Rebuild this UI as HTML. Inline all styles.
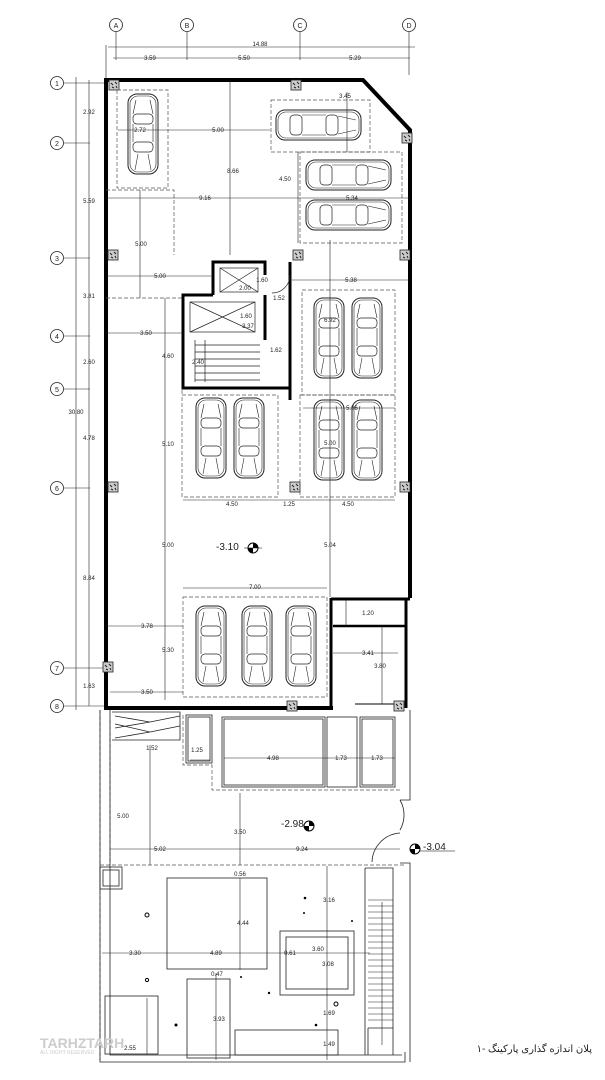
<!DOCTYPE html>
<html><head><meta charset="utf-8"><style>
html,body{margin:0;padding:0;background:#fff;}
svg{display:block}
text{font-family:"Liberation Sans",sans-serif;font-size:6px;fill:#222}
</style></head><body>
<svg width="605" height="1080" viewBox="0 0 605 1080" xmlns="http://www.w3.org/2000/svg">
<defs>
<g id="carV"><rect x="0" y="0" width="30" height="80" rx="9" fill="#fff" stroke="#222" stroke-width="1"/><rect x="2" y="2" width="26" height="76" rx="8" fill="none" stroke="#222" stroke-width="0.6"/><rect x="5" y="20" width="20" height="10" rx="4" fill="none" stroke="#222" stroke-width="0.7"/><rect x="5" y="48" width="20" height="10" rx="4" fill="none" stroke="#222" stroke-width="0.7"/><path d="M5 30 L5 48 M25 30 L25 48 M8 6 L5 20 M22 6 L25 20 M10 60 L7 76 M20 60 L23 76" stroke="#222" stroke-width="0.6" fill="none"/></g>
<g id="carH"><rect x="0" y="0" width="85" height="30" rx="9" fill="#fff" stroke="#222" stroke-width="1"/><rect x="2" y="2" width="81" height="26" rx="8" fill="none" stroke="#222" stroke-width="0.6"/><rect x="14" y="5" width="12" height="20" rx="4" fill="none" stroke="#222" stroke-width="0.7"/><rect x="50" y="5" width="12" height="20" rx="4" fill="none" stroke="#222" stroke-width="0.7"/><path d="M26 5 L50 5 M26 25 L50 25 M62 6 L80 10 M62 24 L80 20" stroke="#222" stroke-width="0.6" fill="none"/></g>
<g id="col"><rect x="0" y="0" width="10" height="10" fill="#ccc" stroke="#222" stroke-width="0.8"/><path d="M2 3 l2 2 M6 2 l2 2 M3 7 l2 1 M7 6 l1 2" stroke="#222" stroke-width="1"/></g>
</defs>

<g fill="#fff" stroke="#222" stroke-width="0.8">
<circle cx="116" cy="25" r="6.5"/><circle cx="187" cy="25" r="6.5"/><circle cx="300" cy="25" r="6.5"/><circle cx="409" cy="25" r="6.5"/>
<circle cx="57" cy="83" r="6.5"/><circle cx="57" cy="143" r="6.5"/><circle cx="57" cy="258" r="6.5"/><circle cx="57" cy="336" r="6.5"/><circle cx="57" cy="389" r="6.5"/><circle cx="57" cy="488" r="6.5"/><circle cx="57" cy="668" r="6.5"/><circle cx="57" cy="706" r="6.5"/>
</g>
<g text-anchor="middle">
<text x="116" y="28" style="font-size:7px">A</text><text x="187" y="28" style="font-size:7px">B</text><text x="300" y="28" style="font-size:7px">C</text><text x="409" y="28" style="font-size:7px">D</text>
<text x="57" y="86" style="font-size:7px">1</text><text x="57" y="146" style="font-size:7px">2</text><text x="57" y="261" style="font-size:7px">3</text><text x="57" y="339" style="font-size:7px">4</text><text x="57" y="392" style="font-size:7px">5</text><text x="57" y="491" style="font-size:7px">6</text><text x="57" y="671" style="font-size:7px">7</text><text x="57" y="709" style="font-size:7px">8</text>
</g>
<g stroke="#222" stroke-width="0.6">
<line x1="116" y1="32" x2="116" y2="60"/><line x1="187" y1="32" x2="187" y2="60"/><line x1="300" y1="32" x2="300" y2="60"/><line x1="409" y1="32" x2="409" y2="75"/>
<line x1="108" y1="47" x2="415" y2="47"/><line x1="113" y1="58" x2="410" y2="58"/>
<line x1="64" y1="83" x2="106" y2="83"/><line x1="64" y1="143" x2="90" y2="143"/><line x1="64" y1="258" x2="90" y2="258"/><line x1="64" y1="336" x2="90" y2="336"/><line x1="64" y1="389" x2="90" y2="389"/><line x1="64" y1="488" x2="90" y2="488"/><line x1="64" y1="668" x2="106" y2="668"/><line x1="64" y1="706" x2="106" y2="706"/>
<line x1="76" y1="77" x2="76" y2="710"/><line x1="89" y1="80" x2="89" y2="706"/>
<line x1="106" y1="45" x2="106" y2="80"/>
</g>
<g text-anchor="middle">
<text x="260" y="46">14.88</text><text x="150" y="60">3.59</text><text x="244" y="60">5.50</text><text x="355" y="60">5.29</text>
<text x="89" y="114">2.92</text><text x="89" y="203">5.59</text><text x="89" y="298">3.81</text><text x="89" y="364">2.60</text><text x="89" y="440">4.78</text><text x="76" y="414">30.80</text><text x="89" y="580">8.84</text><text x="89" y="688">1.63</text>
</g>

<path d="M106 710 L106 80 L363 80 L410 130 L410 598" fill="none" stroke="#000" stroke-width="4"/>
<line x1="106" y1="708" x2="333" y2="708" stroke="#000" stroke-width="4"/>
<line x1="331" y1="598" x2="331" y2="708" stroke="#000" stroke-width="3"/>
<line x1="331" y1="599" x2="410" y2="599" stroke="#000" stroke-width="3"/>
<line x1="333" y1="626" x2="405" y2="626" stroke="#000" stroke-width="2.5"/>
<line x1="406" y1="599" x2="406" y2="708" stroke="#000" stroke-width="3"/>
<line x1="355" y1="704" x2="406" y2="704" stroke="#000" stroke-width="1"/>

<use href="#col" x="109" y="80"/><use href="#col" x="291" y="80"/><use href="#col" x="402" y="133"/><use href="#col" x="108" y="250"/><use href="#col" x="400" y="250"/><use href="#col" x="108" y="482"/><use href="#col" x="290" y="482"/><use href="#col" x="400" y="482"/><use href="#col" x="103" y="662"/><use href="#col" x="287" y="701"/><use href="#col" x="394" y="701"/><use href="#col" x="293" y="250"/>

<g fill="none" stroke="#555" stroke-width="0.7" stroke-dasharray="4,2">
<rect x="117" y="90" width="51" height="98"/><rect x="271" y="100" width="99" height="52"/><rect x="300" y="152" width="102" height="91"/><rect x="302" y="290" width="93" height="105"/><rect x="182" y="395" width="96" height="102"/><rect x="300" y="395" width="95" height="102"/><rect x="183" y="597" width="144" height="100"/>
<path d="M106 298 L182 298 L182 395 M106 190 L174 190 L174 255"/>
<path d="M100 710 L100 1060"/><path d="M110 720 L110 865 M183 715 L183 765 L212 765 L212 790 L400 790"/>
<path d="M100 865 L405 865"/>
</g>

<use href="#carV" x="128" y="94"/>
<use href="#carH" x="276" y="110"/><use href="#carH" x="306" y="160"/><use href="#carH" x="306" y="200"/>
<use href="#carV" x="314" y="298"/><use href="#carV" x="352" y="298"/>
<use href="#carV" x="196" y="398"/><use href="#carV" x="234" y="398"/>
<use href="#carV" x="314" y="400"/><use href="#carV" x="352" y="400"/>
<use href="#carV" x="196" y="606"/><use href="#carV" x="242" y="606"/><use href="#carV" x="286" y="606"/>

<g fill="none" stroke="#000" stroke-width="3">
<path d="M213 295 L213 262 L265 262 L265 275"/><path d="M213 295 L183 295 L183 388 L290 388 M265 295 L265 340"/>
<path d="M290 262 L290 400"/>
</g>
<g fill="none" stroke="#222" stroke-width="0.7">
<rect x="220" y="268" width="38" height="24"/><path d="M220 268 L258 292 M258 268 L220 292"/>
<rect x="190" y="302" width="65" height="30"/><path d="M190 302 L255 332 M255 302 L190 332"/>
<path d="M195 340 L195 382 M205 340 L205 382 M195 345 L260 345 M195 352 L260 352 M195 359 L260 359 M195 366 L260 366 M195 373 L260 373 M195 380 L260 380"/>
<path d="M290 275 A18 18 0 0 1 272 293"/>
</g>

<g stroke="#222" stroke-width="0.6">
<line x1="230" y1="82" x2="230" y2="255"/><line x1="118" y1="130" x2="270" y2="130"/><line x1="106" y1="198" x2="410" y2="198"/>
<line x1="140" y1="190" x2="140" y2="298"/><line x1="106" y1="276" x2="213" y2="276"/><line x1="292" y1="280" x2="410" y2="280"/>
<line x1="347" y1="92" x2="347" y2="152"/><line x1="298" y1="152" x2="298" y2="243"/>
<line x1="106" y1="333" x2="183" y2="333"/><line x1="165" y1="298" x2="165" y2="700"/><line x1="330" y1="240" x2="330" y2="597"/>
<line x1="183" y1="500" x2="395" y2="500"/><line x1="303" y1="408" x2="395" y2="408"/>
<line x1="183" y1="588" x2="327" y2="588"/><line x1="106" y1="626" x2="183" y2="626"/><line x1="110" y1="692" x2="183" y2="692"/>
<line x1="346" y1="600" x2="346" y2="626"/><line x1="333" y1="653" x2="398" y2="653"/><line x1="382" y1="626" x2="382" y2="704"/>
</g>
<g text-anchor="middle">
<text x="140" y="132">2.72</text><text x="218" y="132">5.00</text><text x="233" y="173">8.66</text><text x="205" y="200">9.16</text><text x="345" y="98">3.45</text><text x="285" y="181">4.50</text><text x="352" y="200">5.34</text>
<text x="141" y="246">5.00</text><text x="160" y="278">5.00</text><text x="351" y="282">5.38</text><text x="245" y="290">2.00</text><text x="262" y="282">1.60</text><text x="279" y="300">1.52</text><text x="248" y="328">3.37</text><text x="246" y="318">1.60</text><text x="276" y="352">1.62</text><text x="146" y="335">3.50</text><text x="168" y="358">4.60</text><text x="198" y="364">2.40</text><text x="330" y="322">6.92</text><text x="352" y="410">5.86</text><text x="330" y="445">5.00</text><text x="168" y="446">5.10</text><text x="232" y="506">4.50</text><text x="289" y="506">1.25</text><text x="348" y="506">4.50</text><text x="168" y="547">5.00</text><text x="330" y="547">5.04</text><text x="255" y="589">7.00</text><text x="147" y="628">3.78</text><text x="168" y="652">5.30</text><text x="147" y="694">3.50</text><text x="368" y="615">1.20</text><text x="368" y="655">3.41</text><text x="380" y="668">3.80</text>
</g>
<g><text x="216" y="550" style="font-size:10px">-3.10</text><circle cx="253" cy="548" r="5" fill="#fff" stroke="#000"/><path d="M253 543 A5 5 0 0 1 258 548 L253 548Z M253 553 A5 5 0 0 1 248 548 L253 548Z" fill="#000"/><line x1="244" y1="548" x2="262" y2="548" stroke="#000" stroke-width="0.6"/></g>

<g fill="none" stroke="#222" stroke-width="0.8">
<path d="M100 710 L100 1062 L405 1062 L405 1052 M110 710 L110 1055 L402 1055"/>
<path d="M410 710 L410 800 L400 800 M400 863 L410 863 L410 1062"/>
<path d="M400 800 A30 30 0 0 1 400 830 M400 833 A30 30 0 0 0 372 862"/>
<path d="M112 712 L180 712 L180 740 L112 740"/><path d="M115 716 L150 722 L115 728 M115 724 L150 732 L115 738 M180 716 L150 722 M180 726 L150 732"/>
<rect x="186" y="715" width="26" height="48"/><rect x="188" y="717" width="22" height="44"/>
<rect x="222" y="717" width="103" height="70"/><rect x="224" y="719" width="99" height="66"/>
<rect x="327" y="717" width="30" height="70"/>
<rect x="360" y="717" width="35" height="70"/><rect x="362" y="719" width="31" height="66"/>
<rect x="100" y="867" width="22" height="22"/><rect x="103" y="870" width="16" height="16"/>
<rect x="167" y="878" width="100" height="91"/>
<rect x="280" y="931" width="74" height="64"/><rect x="286" y="937" width="62" height="52"/>
<rect x="187" y="979" width="43" height="79"/>
<rect x="105" y="996" width="53" height="58"/>
<rect x="235" y="1030" width="103" height="25"/>
<path d="M365 868 L393 868 L393 1055 M368 1028 L393 1028 M368 1028 L368 1055 M365 868 L365 1055"/>
</g>
<g stroke="#222" stroke-width="0.6">
<path d="M368 900 L393 900 M368 906 L393 906 M368 912 L393 912 M368 918 L393 918 M368 924 L393 924 M368 930 L393 930 M368 936 L393 936 M368 942 L393 942 M368 948 L393 948 M368 954 L393 954 M368 960 L393 960 M368 966 L393 966 M368 972 L393 972 M368 978 L393 978 M368 984 L393 984 M368 990 L393 990 M368 996 L393 996 M368 1002 L393 1002 M368 1008 L393 1008 M368 1014 L393 1014 M368 1020 L393 1020"/>
<line x1="382" y1="902" x2="382" y2="1045"/>
<line x1="150" y1="745" x2="150" y2="865"/><line x1="240" y1="793" x2="240" y2="865"/><line x1="110" y1="849" x2="400" y2="849"/>
<line x1="102" y1="953" x2="370" y2="953"/><line x1="240" y1="878" x2="240" y2="970"/><line x1="327" y1="866" x2="327" y2="1060"/>
<line x1="216" y1="973" x2="216" y2="1060"/><line x1="147" y1="998" x2="147" y2="1054"/>
<line x1="190" y1="760" x2="210" y2="760"/><line x1="224" y1="758" x2="395" y2="758"/>
</g>
<g text-anchor="middle">
<text x="152" y="750">1.52</text><text x="197" y="752">1.25</text><text x="273" y="760">4.98</text><text x="341" y="760">1.73</text><text x="377" y="760">1.73</text>
<text x="123" y="818">5.00</text><text x="240" y="834">3.50</text><text x="160" y="851">5.02</text><text x="302" y="851">9.24</text>
<text x="240" y="876">0.56</text><text x="243" y="925">4.44</text><text x="329" y="902">3.16</text><text x="135" y="955">3.30</text><text x="216" y="955">4.89</text><text x="290" y="955">0.61</text><text x="318" y="951">3.60</text><text x="328" y="966">3.08</text><text x="217" y="976">0.47</text><text x="219" y="1021">3.93</text><text x="329" y="1015">1.69</text><text x="329" y="1046">1.49</text><text x="130" y="1050">2.55</text>
</g>
<g fill="#000"><circle cx="147" cy="915" r="2" fill="none" stroke="#000"/><circle cx="147" cy="980" r="1.6" fill="none" stroke="#000"/><circle cx="305" cy="898" r="1.3"/><circle cx="304" cy="913" r="1"/><circle cx="352" cy="921" r="1"/><circle cx="241" cy="977" r="1"/><circle cx="269" cy="993" r="1.2"/><circle cx="336" cy="1004" r="2" fill="none" stroke="#000"/><circle cx="176" cy="1025" r="1.5"/><circle cx="316" cy="1025" r="1.3"/></g>
<g><text x="281" y="827" style="font-size:10px">-2.98</text><circle cx="309" cy="826" r="5" fill="#fff" stroke="#000"/><path d="M309 821 A5 5 0 0 1 314 826 L309 826Z M309 831 A5 5 0 0 1 304 826 L309 826Z" fill="#000"/></g>
<g><circle cx="415" cy="849" r="5" fill="#fff" stroke="#000"/><path d="M415 844 A5 5 0 0 1 420 849 L415 849Z M415 854 A5 5 0 0 1 410 849 L415 849Z" fill="#000"/><text x="423" y="850" style="font-size:10px">-3.04</text><line x1="420" y1="851" x2="455" y2="851" stroke="#000" stroke-width="0.6"/></g>
<text x="40" y="1048" style="font-size:14px;fill:#ccc;font-weight:bold">TARHZTARH</text><text x="40" y="1054" style="font-size:5px;fill:#ccc">ALL RIGHT RESERVED</text>
<text x="592" y="1052" text-anchor="end" style="font-family:'Liberation Sans','Noto Sans CJK SC',sans-serif;font-size:10px;direction:ltr;unicode-bidi:plaintext">پلان اندازه گذاری پارکینگ -۱</text>
</svg>
</body></html>
